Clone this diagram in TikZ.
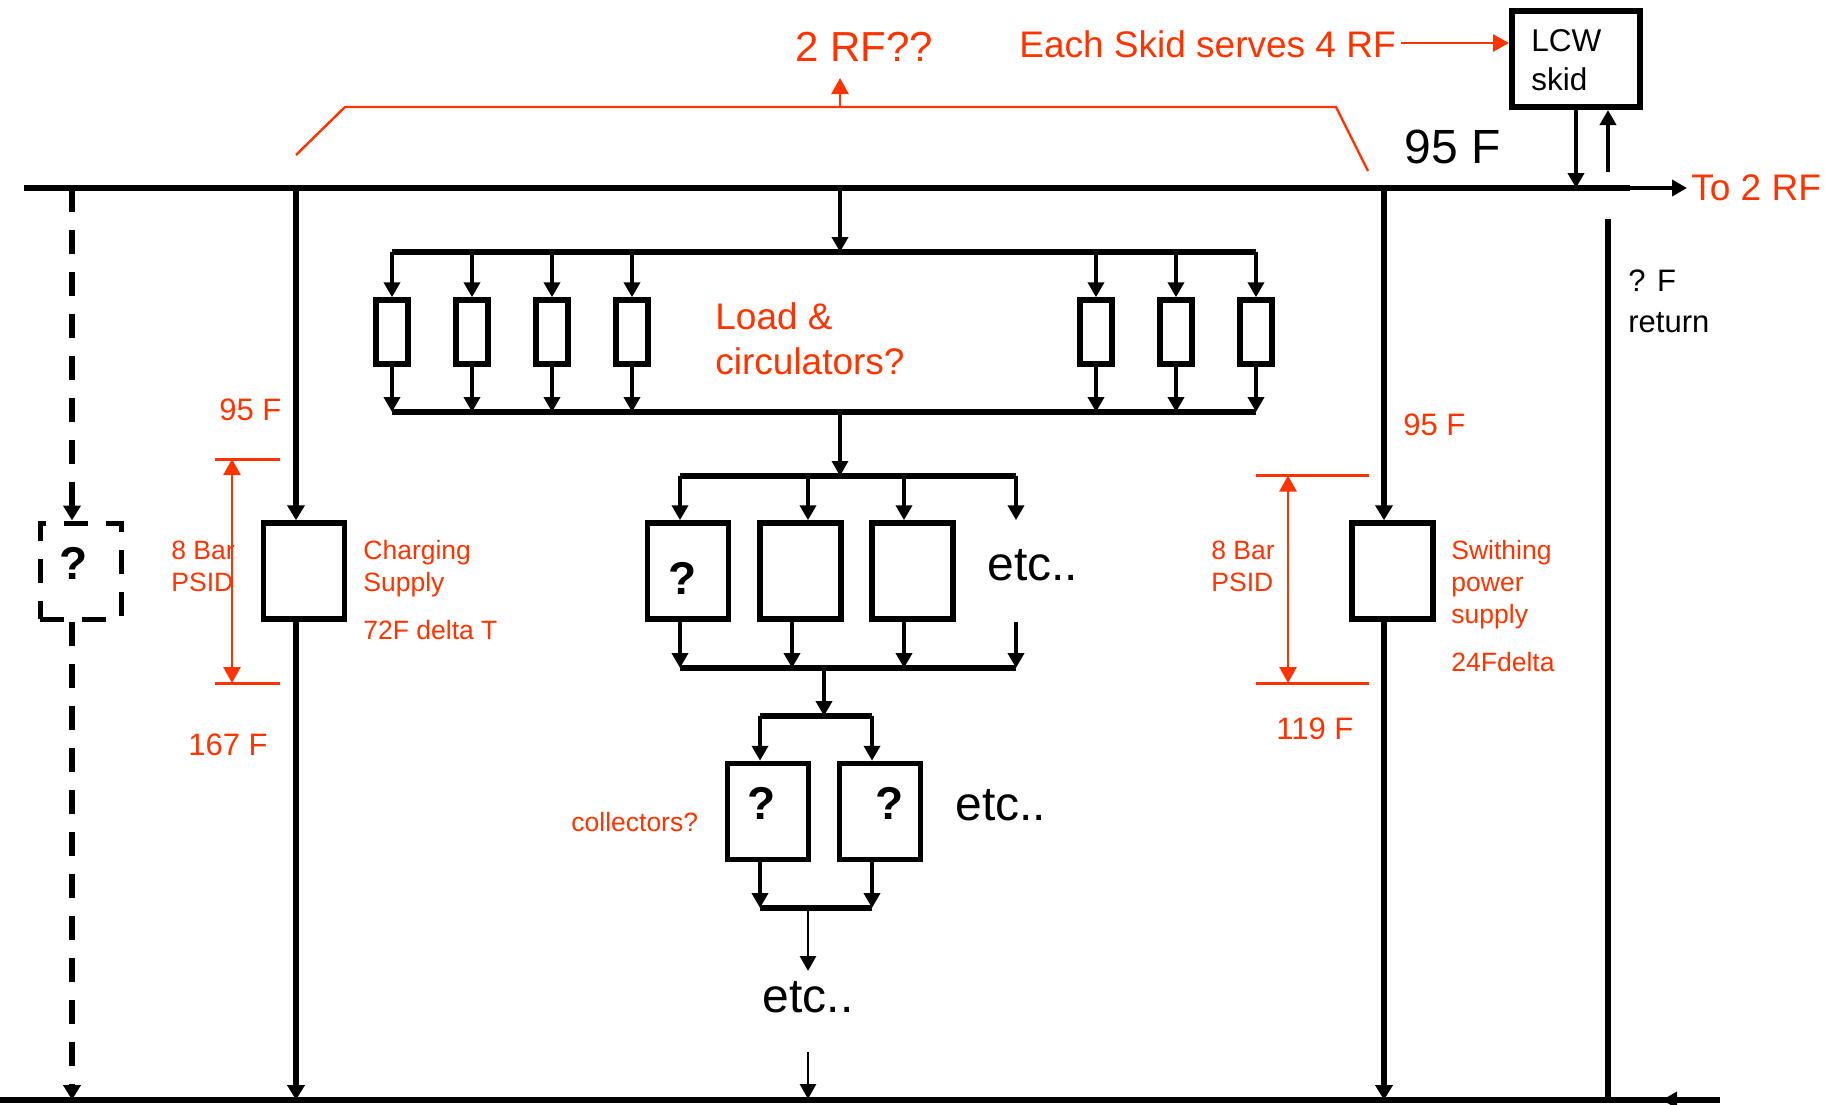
\documentclass[tikz,border=0pt]{standalone}
\usepackage{fontspec}
\setmainfont{Liberation Sans}
\usetikzlibrary{arrows.meta}
\definecolor{rfred}{HTML}{FF3300}

\begin{document}
\begin{tikzpicture}[x=0.5pt, y=-0.5pt, every node/.style={inner sep=0pt, align=left, anchor=west}]
    \tikzset{unit/.style={rectangle, draw, line width=2.75pt, minimum width=40.5pt, minimum height=48pt, anchor=center}}
    \tikzset{load/.style={rectangle, draw, line width=2.75pt, minimum width=16pt, minimum height=32pt, anchor=center}}
    \tikzset{bus/.style={draw, line width=3pt}}
    \tikzset{pipe/.style={draw, line width=2.75pt, -{Triangle[width=8.5pt, length=7.5pt]}}}
    \tikzset{feed/.style={draw, line width=2pt, -{Triangle[width=8pt, length=7.5pt]}}}
    \tikzset{thin feed/.style={draw, line width=1.4pt, -{Triangle[width=8pt, length=7.5pt]}}}
    \tikzset{red line/.style={draw, rfred, line width=1.5pt}}
    \tikzset{red arrow/.style={red line, line width=1.3pt, -{Triangle[width=8.5pt, length=8pt]}}}
    \tikzset{red both/.style={red line, line width=1.3pt, {Triangle[width=8.5pt, length=8pt]}-{Triangle[width=8.5pt, length=8pt]}}}
    \tikzset{qmark/.style={font=\fontsize{23}{26}\bfseries\selectfont, anchor=center}}
    \tikzset{small/.style={text=rfred, font=\fontsize{13.25}{16}\selectfont}}
    \tikzset{medium/.style={text=rfred, font=\fontsize{15.5}{18}\selectfont}}
    \tikzset{large/.style={text=rfred, font=\fontsize{18.5}{22.5}\selectfont}}
    \tikzset{big/.style={font=\fontsize{24}{26}\selectfont}}

    \useasboundingbox (0,0) rectangle (1825,1104);

    % supply and return headers
    \coordinate (supL) at (24,188);
    \coordinate (supR) at (1630,188);
    \coordinate (supEnd) at (1687,188);
    \coordinate (retL) at (0,1100);
    \coordinate (retR) at (1720,1100);
    \coordinate (retTip) at (1662,1100);
    \path [bus] (supL) -- (supR);
    \path [bus] (retL) -- (retR);
    \path [feed, line width=2.4pt] (supR) -- (supEnd);
    \path [feed] (retR) -- (retTip);

    % skid
    \node [rectangle, draw, line width=3pt, minimum width=64pt, minimum height=48pt, anchor=center] (skid) at (1576,59) {};
    \node [font=\fontsize{15.75}{19.5}\selectfont] (skidtxt) at (1531,60) {LCW\\skid};
    \coordinate (skidDn) at (1576,188);
    \coordinate (skidUp) at (1608,172);
    \coordinate (retTop) at (1608,219);
    \coordinate (retBot) at (1608,1100);
    \path [feed] (skid.south -| skidDn) -- (skidDn);
    \path [feed] (skidUp) -- (skidUp |- skid.south);
    \draw [line width=2.75pt] (retTop) -- (retBot);

    % bracket and top labels
    \coordinate (brA) at (296,155);
    \coordinate (brB) at (345,107);
    \coordinate (brC) at (1336,107);
    \coordinate (brD) at (1368,171);
    \coordinate (brMid) at (840,107);
    \coordinate (brTip) at (840,78);
    \path [red line, line width=1.2pt] (brA) -- (brB) -- (brC) -- (brD);
    \path [red arrow] (brMid) -- (brTip);
    \node [text=rfred, font=\fontsize{21}{24}\selectfont] (tworf) at (795,47) {2 RF??};
    \node [large] (each) at (1019,44) {Each Skid serves 4 RF};
    \coordinate (eachEnd) at (1401,43);
    \path [red arrow] (eachEnd) -- (eachEnd -| skid.west);
    \node [big] (top95) at (1404,147) {95 F};
    \node [large] (torf) at (1691,188) {To 2 RF};
    \node [font=\fontsize{15.5}{20.5}\selectfont] (retnote) at (1628,301) {? F\\return};

    % dashed branch
    \node [unit, line width=2.5pt, dash pattern=on 12pt off 9pt] (dash) at (80.5,571) {};
    \node [qmark] (dashq) at (74,563) {?};
    \coordinate (dashT) at (72,188);
    \coordinate (dashB) at (72,1100);
    \path [pipe, dash pattern=on 12pt off 9pt] (dashT) -- (dashT |- dash.north);
    \path [pipe, dash pattern=on 12pt off 9pt] (dashT |- dash.south) -- (dashB);

    % charging supply
    \node [unit] (chg) at (304,571) {};
    \coordinate (chgT) at (296,188);
    \coordinate (chgB) at (296,1100);
    \path [pipe] (chgT) -- (chgT |- chg.north);
    \path [pipe] (chgT |- chg.south) -- (chgB);
    \coordinate (chgHi) at (215,459);
    \coordinate (chgLo) at (215,683);
    \path [red line] (chgHi) -- ++(65,0);
    \path [red line] (chgLo) -- ++(65,0);
    \coordinate (chgDim) at (232,459);
    \path [red both] (chgDim) -- (chgDim |- chgLo);
    \node [medium] (chg95) at (219,410) {95 F};
    \node [medium] (chg167) at (188,745) {167 F};
    \node [small] (chgbar) at (171,566) {8 Bar\\PSID};
    \node [small] (chgname) at (363,569) {Charging\\Supply};
    \node [small] (chgdelta) at (363,630) {72F delta T};

    % switching supply
    \node [unit] (sw) at (1392.5,571) {};
    \coordinate (swT) at (1384,188);
    \coordinate (swB) at (1384,1100);
    \path [pipe] (swT) -- (swT |- sw.north);
    \path [pipe] (swT |- sw.south) -- (swB);
    \coordinate (swHi) at (1256,475.5);
    \coordinate (swLo) at (1256,683);
    \path [red line] (swHi) -- ++(113,0);
    \path [red line] (swLo) -- ++(113,0);
    \coordinate (swDim) at (1288,475.5);
    \path [red both] (swDim) -- (swDim |- swLo);
    \node [medium] (sw95) at (1403,425) {95 F};
    \node [medium] (sw119) at (1276,729) {119 F};
    \node [small] (swbar) at (1211,566) {8 Bar\\PSID};
    \node [small] (swname) at (1451,585) {Swithing\\power\\supply};
    \node [small] (swdelta) at (1451,662) {24Fdelta};

    % loads
    \coordinate (hdrL) at (392,252);
    \coordinate (hdrR) at (1256,252);
    \coordinate (colL) at (392,412);
    \coordinate (colR) at (1256,412);
    \coordinate (mainT) at (840,188);
    \path [bus, line width=2.75pt] (hdrL) -- (hdrR);
    \path [bus, line width=2.75pt] (colL) -- (colR);
    \path [feed, line width=2.3pt] (mainT) -- (mainT |- hdrL);
    \node [load] (l1) at (392,332) {};
    \node [load] (l2) at (472,332) {};
    \node [load] (l3) at (552,332) {};
    \node [load] (l4) at (632,332) {};
    \node [load] (l5) at (1096,332) {};
    \node [load] (l6) at (1176,332) {};
    \node [load] (l7) at (1256,332) {};
    \foreach \n in {l1,l2,l3,l4,l5,l6,l7} {
        \path [feed] (\n |- hdrL) -- (\n);
        \path [feed] (\n) -- (\n |- colL);
    }
    \node [large] (loadtxt) at (715,339) {Load \&\\circulators?};

    % middle row
    \coordinate (midT) at (840,476);
    \coordinate (midL) at (680,476);
    \coordinate (midR) at (1016,476);
    \coordinate (botL) at (680,668);
    \coordinate (botR) at (1016,668);
    \path [thin feed, line width=1.6pt] (mainT |- colL) -- (midT);
    \path [bus, line width=2.75pt] (midL) -- (midR);
    \path [bus, line width=2.75pt] (botL) -- (botR);
    \node [unit] (q1) at (688,571) {};
    \node [qmark] (q1txt) at (683,578) {?};
    \node [unit] (q2) at (800.5,571) {};
    \node [unit] (q3) at (912.5,571) {};
    \coordinate (qa) at (680,476);
    \coordinate (qb) at (808,476);
    \coordinate (qc) at (904,476);
    \coordinate (qd) at (1016,476);
    \coordinate (qe) at (792,476);
    \path [feed] (qa) -- (qa |- q1.north);
    \path [feed] (qb) -- (qb |- q2.north);
    \path [feed] (qc) -- (qc |- q3.north);
    \path [feed] (qd) -- (qd |- q3.north);
    \path [feed] (qa |- q1.south) -- (qa |- botL);
    \path [feed] (qe |- q2.south) -- (qe |- botL);
    \path [feed] (qc |- q3.south) -- (qc |- botL);
    \path [feed] (qd |- q3.south) -- (qd |- botL);
    \node [big] (etc1) at (987,565) {etc..};

    % collectors
    \coordinate (colT) at (824,668);
    \coordinate (colA) at (760,716);
    \coordinate (colB) at (872,716);
    \coordinate (outA) at (760,908);
    \coordinate (outB) at (872,908);
    \path [feed] (colT) -- (colT |- colA);
    \path [bus, line width=2.75pt] (colA) -- (colB);
    \path [bus, line width=2.75pt] (outA) -- (outB);
    \node [unit] (c1) at (768,811.5) {};
    \node [unit] (c2) at (880,811.5) {};
    \node [qmark] (c1txt) at (762,803) {?};
    \node [qmark] (c2txt) at (890,803) {?};
    \path [feed] (colA) -- (colA |- c1.north);
    \path [feed] (colB) -- (colB |- c2.north);
    \path [feed] (colA |- c1.south) -- (outA);
    \path [feed] (colB |- c2.south) -- (outB);
    \node [big] (etc2) at (955,805) {etc..};
    \node [small] (coltxt) at (571,822) {collectors?};

    % last stage
    \coordinate (lastT) at (808,908);
    \coordinate (lastA) at (808,971);
    \coordinate (lastB) at (808,1052);
    \coordinate (lastC) at (808,1099);
    \path [thin feed] (lastT) -- (lastA);
    \node [big, anchor=center] (etc3) at (808,997) {etc..};
    \path [thin feed] (lastB) -- (lastC);
\end{tikzpicture}
\end{document}
